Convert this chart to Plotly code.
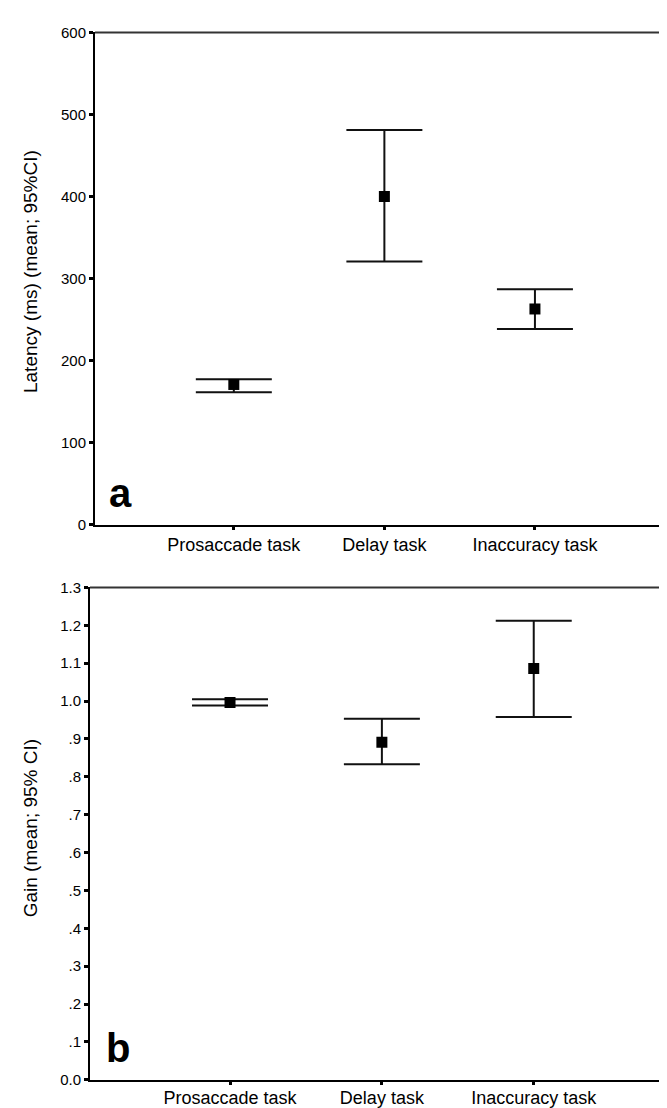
import plotly.graph_objects as go

W, H = 667, 1108

# ---- data ----
categories = ["Prosaccade task", "Delay task", "Inaccuracy task"]

latency_mean = [171, 400, 263]
latency_lower = [161.5, 321, 238.5]
latency_upper = [177.5, 481, 287]

gain_mean = [0.996, 0.891, 1.086]
gain_lower = [0.988, 0.833, 0.958]
gain_upper = [1.005, 0.953, 1.212]

lat_ticks = [0, 100, 200, 300, 400, 500, 600]
lat_ticktext = ["0", "100", "200", "300", "400", "500", "600"]
gain_ticks = [0.0, 0.1, 0.2, 0.3, 0.4, 0.5, 0.6, 0.7, 0.8, 0.9, 1.0, 1.1, 1.2, 1.3]
gain_ticktext = ["0.0", ".1", ".2", ".3", ".4", ".5", ".6", ".7", ".8", ".9", "1.0", "1.1", "1.2", "1.3"]

FONT = "Liberation Sans, Arial, sans-serif"


def px_x(x):
    return x / W


def px_y(y):
    return (H - y) / H


xs = list(range(len(categories)))

fig = go.Figure()

fig.add_trace(go.Scatter(
    x=xs, y=latency_mean, mode="markers",
    marker=dict(symbol="square", size=11, color="black"),
    error_y=dict(type="data", symmetric=False,
                 array=[u - m for u, m in zip(latency_upper, latency_mean)],
                 arrayminus=[m - l for m, l in zip(latency_mean, latency_lower)],
                 width=38, thickness=2, color="#111"),
    xaxis="x", yaxis="y", showlegend=False,
))

fig.add_trace(go.Scatter(
    x=xs, y=gain_mean, mode="markers",
    marker=dict(symbol="square", size=11, color="black"),
    error_y=dict(type="data", symmetric=False,
                 array=[u - m for u, m in zip(gain_upper, gain_mean)],
                 arrayminus=[m - l for m, l in zip(gain_mean, gain_lower)],
                 width=38, thickness=2, color="#111"),
    xaxis="x2", yaxis="y2", showlegend=False,
))

xr = [-0.922, 2.917]
common_x = dict(
    range=xr, tickmode="array", tickvals=xs, ticktext=categories,
    showgrid=False, zeroline=False, showline=True, linecolor="black", linewidth=2,
    ticks="outside", ticklen=3, tickwidth=3, tickcolor="black",
    tickfont=dict(family=FONT, size=18, color="black"),
)
common_y = dict(
    showgrid=False, zeroline=False, showline=True, linecolor="black", linewidth=2,
    ticks="outside", ticklen=4, tickwidth=3, tickcolor="black",
    tickfont=dict(family=FONT, size=15, color="black"),
    tickmode="array",
)

top_dom_y = [px_y(515.7), px_y(15.7)]
bot_dom_y = [px_y(1079.3), px_y(579.3)]
top_dom_x = [px_x(87), px_x(665)]
bot_dom_x = [px_x(82), px_x(665)]

fig.update_layout(
    width=W, height=H,
    margin=dict(l=0, r=0, t=0, b=0),
    paper_bgcolor="white", plot_bgcolor="white",
    xaxis=dict(domain=top_dom_x, anchor="y", **common_x),
    yaxis=dict(domain=top_dom_y, anchor="x", range=[0, 600],
               tickvals=lat_ticks, ticktext=lat_ticktext, **common_y),
    xaxis2=dict(domain=bot_dom_x, anchor="y2", ticklabelstandoff=-2, **common_x),
    yaxis2=dict(domain=bot_dom_y, anchor="x2", range=[0, 1.3],
                tickvals=gain_ticks, ticktext=gain_ticktext, **common_y),
)

# top and right frame lines
for xd, yd in [(top_dom_x, top_dom_y), (bot_dom_x, bot_dom_y)]:
    fig.add_shape(type="line", xref="paper", yref="paper",
                  x0=xd[0], x1=xd[1], y0=yd[1], y1=yd[1],
                  line=dict(color="#333", width=2))
    fig.add_shape(type="line", xref="paper", yref="paper",
                  x0=xd[1], x1=xd[1], y0=yd[0], y1=yd[1],
                  line=dict(color="#555", width=2))

# axis titles
fig.add_annotation(text="Latency (ms) (mean; 95%CI)", textangle=-90,
                   x=px_x(22), y=px_y(259),
                   xref="paper", yref="paper", xanchor="center", yanchor="middle",
                   showarrow=False, font=dict(family=FONT, size=19, color="black"))
fig.add_annotation(text="Gain (mean; 95% CI)", textangle=-90,
                   x=px_x(22), y=px_y(824),
                   xref="paper", yref="paper", xanchor="center", yanchor="middle",
                   showarrow=False, font=dict(family=FONT, size=19, color="black"))

# panel labels
fig.add_annotation(text="<b>a</b>", x=px_x(99), y=px_y(483),
                   xref="paper", yref="paper", xanchor="left", yanchor="middle",
                   showarrow=False, font=dict(family=FONT, size=40, color="black"))
fig.add_annotation(text="<b>b</b>", x=px_x(96), y=px_y(1047),
                   xref="paper", yref="paper", xanchor="left", yanchor="middle",
                   showarrow=False, font=dict(family=FONT, size=40, color="black"))

fig.write_html("out.html")
